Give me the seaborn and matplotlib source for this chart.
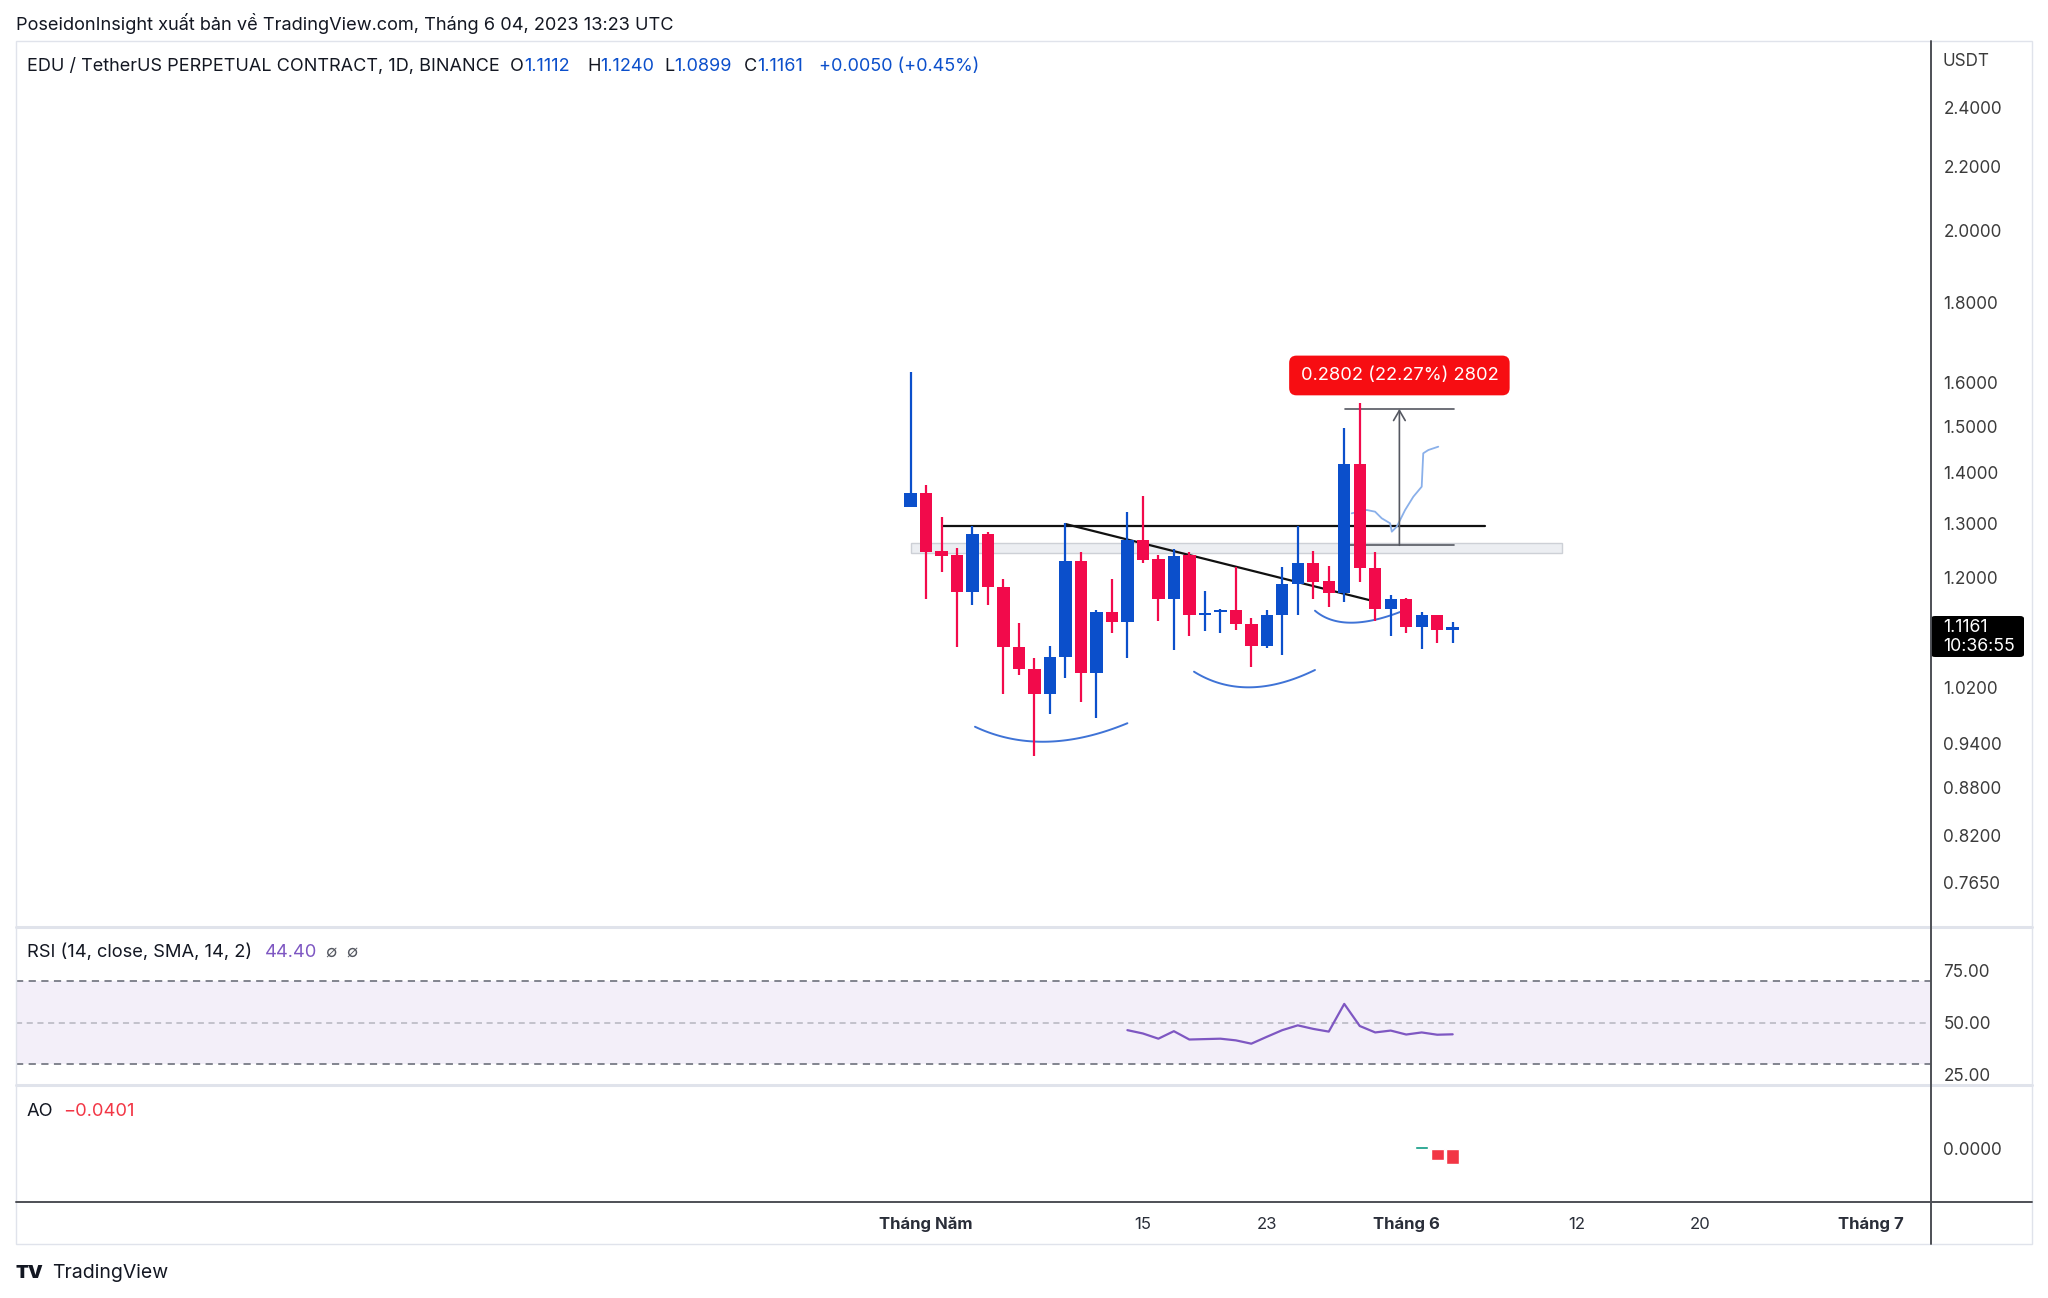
import numpy as np
import pandas as pd
import matplotlib
matplotlib.use("Agg")
import matplotlib.pyplot as plt
import seaborn as sns
from matplotlib.patches import Rectangle, FancyBboxPatch
from matplotlib.lines import Line2D
from matplotlib.ticker import FuncFormatter, NullLocator, NullFormatter

# ---------------- data ----------------
dates = pd.date_range("2023-04-30", "2023-06-04", freq="D")
opens = [1.332, 1.360, 1.248, 1.240, 1.174, 1.279, 1.184, 1.083, 1.048, 1.011,
         1.067, 1.229, 1.042, 1.141, 1.123, 1.269, 1.233, 1.162, 1.240, 1.135,
         1.140, 1.143, 1.121, 1.085, 1.135, 1.188, 1.225, 1.194, 1.173, 1.418,
         1.217, 1.145, 1.162, 1.115, 1.136, 1.1112]
highs = [1.625, 1.375, 1.312, 1.253, 1.295, 1.284, 1.197, 1.122, 1.066, 1.085,
         1.300, 1.245, 1.144, 1.198, 1.322, 1.353, 1.240, 1.251, 1.245, 1.176,
         1.145, 1.219, 1.130, 1.144, 1.219, 1.295, 1.248, 1.220, 1.495, 1.551,
         1.245, 1.169, 1.165, 1.141, 1.136, 1.1240]
lows = [1.331, 1.162, 1.209, 1.083, 1.152, 1.152, 1.011, 1.040, 0.923, 0.981,
        1.034, 0.999, 0.976, 1.106, 1.066, 1.225, 1.126, 1.078, 1.100, 1.109,
        1.106, 1.110, 1.051, 1.081, 1.070, 1.135, 1.162, 1.149, 1.158, 1.192,
        1.126, 1.100, 1.106, 1.080, 1.090, 1.0899]
closes = [1.360, 1.246, 1.239, 1.174, 1.279, 1.184, 1.083, 1.048, 1.011, 1.067,
          1.229, 1.042, 1.141, 1.123, 1.269, 1.232, 1.162, 1.238, 1.135, 1.139,
          1.143, 1.121, 1.085, 1.135, 1.188, 1.225, 1.192, 1.173, 1.418, 1.217,
          1.145, 1.162, 1.115, 1.136, 1.111, 1.1161]

rsi_dates = pd.date_range("2023-05-14", "2023-06-04", freq="D")
rsi_values = [46.4, 44.8, 42.3, 45.9, 41.9, 42.1, 42.3, 41.5, 39.9, 43.2, 46.4,
              48.7, 47.0, 45.7, 59.0, 48.4, 45.3, 46.2, 44.3, 45.3, 44.2, 44.4]

ao_dates = pd.to_datetime(["2023-06-02", "2023-06-03", "2023-06-04"])
ao_values = [0.0075, -0.0294, -0.0401]

price_ticks = [0.765, 0.82, 0.88, 0.94, 1.02, 1.2, 1.3, 1.4, 1.5, 1.6, 1.8, 2.0, 2.2, 2.4]
rsi_ticks = [25, 50, 75]
ao_ticks = [0.0]
time_tick_dates = pd.to_datetime(["2023-05-01", "2023-05-15", "2023-05-23", "2023-06-01",
                                  "2023-06-12", "2023-06-20", "2023-07-01"])
time_tick_labels = ["Tháng Năm", "15", "23", "Tháng 6", "12", "20", "Tháng 7"]
time_tick_bold = [True, False, False, True, False, False, True]

# drawings (date offsets in days from 1 May, price)
hline_x = [1.0, 36.1]; hline_y = 1.2951
trend_x = [9.0, 28.77]; trend_y = [1.2983, 1.1596]
zone_x = [-0.99, 41.06]; zone_y = [1.2434, 1.2631]
measure_x = [27.05, 34.09]; measure_y = [1.2582, 1.5384]; measure_arrow_x = 30.56
measure_text = "0.2802 (22.27%) 2802"
proj_x = [27.48, 28.45, 28.99, 29.42, 29.96, 30.07, 30.39, 30.93, 31.46, 32.0, 32.1, 32.43, 33.07]
proj_y = [1.3189, 1.3254, 1.3221, 1.3093, 1.2997, 1.2837, 1.2932, 1.3254, 1.3516, 1.3717, 1.4409, 1.4479, 1.4550]
arcs = [
    ([3.16, 7.79, 13.0], [0.963, 0.942, 0.968]),
    ([17.3, 20.92, 25.11], [1.0444, 1.0206, 1.047]),
    ([25.11, 27.37, 30.6], [1.1426, 1.1226, 1.1404]),
]

# ---------------- style ----------------
sns.set_theme(style="white")
plt.rcParams["font.family"] = ["Inter", "DejaVu Sans"]

W, H = 2048, 1298
fig = plt.figure(figsize=(W / 100, H / 100), dpi=100)
fig.patch.set_facecolor("white")
renderer = fig.canvas.get_renderer()

def add_ax(x0, y0, x1, y1):
    return fig.add_axes([x0 / W, 1 - y1 / H, (x1 - x0) / W, (y1 - y0) / H])

def fline(x0, y0, x1, y1, **kw):
    fig.add_artist(Line2D([x0 / W, x1 / W], [1 - y0 / H, 1 - y1 / H], transform=fig.transFigure, **kw))

def ftext(x, y, s, **kw):
    return fig.text(x / W, 1 - y / H, s, va="center", **kw)

def fseq(x, y, pieces, **kw):
    """place text pieces one after another; returns end x in px"""
    for s, col in pieces:
        t = ftext(x, y, s, color=col, **kw)
        x += t.get_window_extent(renderer=renderer).width
    return x

base = pd.Timestamp("2023-05-01")
xd = np.array([(d - base).days for d in dates], dtype=float)
rsi_x = np.array([(d - base).days for d in rsi_dates], dtype=float)
ao_x = np.array([(d - base).days for d in ao_dates], dtype=float)
tt_x = [(d - base).days for d in time_tick_dates]
XLIM = (-58.75, 64.88)

BLUE = "#0B4FCB"
RED = "#F20A4B"
AXC = "#3b3b3b"
TXT = "#131722"
LBL = 12.3

# ---------------- main pane ----------------
ax = add_ax(16, 42, 1931, 927)
ax.set_yscale("log")
ax.set_xlim(*XLIM)
ax.set_ylim(0.7169, 2.6416)
for s in ax.spines.values():
    s.set_visible(False)
ax.set_xticks([])
ax.yaxis.tick_right()
ax.set_yticks(price_ticks)
ax.yaxis.set_major_formatter(FuncFormatter(lambda v, p: f"{v:.4f}"))
ax.yaxis.set_minor_locator(NullLocator())
ax.yaxis.set_minor_formatter(NullFormatter())
ax.tick_params(axis="y", length=0, pad=9, labelsize=LBL, labelcolor=AXC)
ax.grid(False)

ax.add_patch(Rectangle((zone_x[0], zone_y[0]), zone_x[1] - zone_x[0], zone_y[1] - zone_y[0],
                       facecolor="#ECEEF2", edgecolor="#CDD0D6", lw=1, zorder=1))
ax.plot(hline_x, [hline_y, hline_y], color="#111111", lw=1.6, zorder=2)
ax.plot(trend_x, trend_y, color="#111111", lw=1.6, zorder=2)
sns.lineplot(x=proj_x, y=proj_y, ax=ax, color="#8AB0EA", lw=1.3, zorder=2, sort=False)

# arcs: quadratic bezier through three points in (day, log price)
for axs, ays in arcs:
    P0 = np.array([axs[0], np.log(ays[0])]); M = np.array([axs[1], np.log(ays[1])])
    P2 = np.array([axs[2], np.log(ays[2])])
    C = 2 * M - (P0 + P2) / 2
    t = np.linspace(0, 1, 60)[:, None]
    pts = (1 - t) ** 2 * P0 + 2 * (1 - t) * t * C + t ** 2 * P2
    ax.plot(pts[:, 0], np.exp(pts[:, 1]), color="#3F73D6", lw=1.4, zorder=2)

# measure tool
mc = "#555861"
ax.plot(measure_x, [measure_y[0]] * 2, color=mc, lw=1.2, zorder=2)
ax.plot(measure_x, [measure_y[1]] * 2, color=mc, lw=1.2, zorder=2)
ax.annotate("", xy=(measure_arrow_x, measure_y[1]), xytext=(measure_arrow_x, measure_y[0]),
            arrowprops=dict(arrowstyle="->,head_length=0.6,head_width=0.35", color=mc, lw=1.2,
                            shrinkA=0, shrinkB=0), zorder=2)
ax.text(measure_arrow_x, 1.616, measure_text, ha="center", va="center", color="white",
        fontsize=13.2, zorder=6,
        bbox=dict(boxstyle="round,pad=0.62,rounding_size=0.4", fc="#F70D12", ec="none"))

# candles
for x, o, h, l, c in zip(xd, opens, highs, lows, closes):
    col = BLUE if c >= o else RED
    ax.vlines(x, l, h, color=col, lw=1.6, zorder=4)
    ax.bar(x, max(abs(c - o), 0.0025), bottom=min(o, c), width=0.8, color=col, zorder=5, lw=0)

# ---------------- RSI pane ----------------
ar = add_ax(16, 927, 1931, 1085)
ar.set_xlim(*XLIM)
ar.set_ylim(20.06, 95.93)
for s in ar.spines.values():
    s.set_visible(False)
ar.set_xticks([])
ar.yaxis.tick_right()
ar.set_yticks(rsi_ticks)
ar.yaxis.set_major_formatter(FuncFormatter(lambda v, p: f"{v:.2f}"))
ar.tick_params(axis="y", length=0, pad=9, labelsize=LBL, labelcolor=AXC)
ar.axhspan(30, 70, color="#7E57C2", alpha=0.09, lw=0)
ar.axhline(70, color="#787B86", lw=1.3, ls=(0, (4, 3)))
ar.axhline(30, color="#787B86", lw=1.3, ls=(0, (4, 3)))
ar.axhline(50, color="#787B86", lw=1.1, ls=(0, (4, 3)), alpha=0.5)
sns.lineplot(x=rsi_x, y=rsi_values, ax=ar, color="#7E57C2", lw=1.6)
ar.set_xlabel(""); ar.set_ylabel("")

# ---------------- AO pane ----------------
ao = add_ax(16, 1085, 1931, 1202)
ao.set_xlim(*XLIM)
ao.set_ylim(-0.1429, 0.1697)
for s in ao.spines.values():
    s.set_visible(False)
ao.bar(ao_x, ao_values, width=0.85, color=["#089981" if v >= 0 else "#F23645" for v in ao_values])
ao.yaxis.tick_right()
ao.set_yticks(ao_ticks)
ao.yaxis.set_major_formatter(FuncFormatter(lambda v, p: f"{v:.4f}"))
ao.tick_params(axis="y", length=0, pad=9, labelsize=LBL, labelcolor=AXC)
ao.set_xticks(tt_x)
ao.set_xticklabels(time_tick_labels)
ao.tick_params(axis="x", length=0, pad=11, labelsize=12, labelcolor="#2a2e39")
for lab, b in zip(ao.get_xticklabels(), time_tick_bold):
    if b:
        lab.set_fontweight("bold")

# ---------------- frame lines ----------------
fig.add_artist(Rectangle((16 / W, 1 - 1244 / H), (2032 - 16) / W, (1244 - 41) / H,
                         transform=fig.transFigure, fill=False, ec="#E0E3EB", lw=1))
fline(16, 927, 2032, 927, color="#E0E3EB", lw=2.2)
fline(16, 1085, 2032, 1085, color="#E0E3EB", lw=2.2)
fline(16, 1202, 2032, 1202, color="#4d4f55", lw=1.4)
fline(1931, 41, 1931, 1244, color="#4d4f55", lw=1.4)

# ---------------- texts ----------------
ftext(16, 23.5, "PoseidonInsight xuất bản về TradingView.com, Tháng 6 04, 2023 13:23 UTC",
      fontsize=13.1, color=TXT)
ftext(27, 66.5, "EDU / TetherUS PERPETUAL CONTRACT, 1D, BINANCE", fontsize=13, color=TXT)
VBLUE = "#0B4FCB"
for lx, letter, val in [(510, "O", "1.1112"), (587, "H", "1.1240"), (664, "L", "1.0899"), (744, "C", "1.1161")]:
    fseq(lx, 66.5, [(letter, TXT), (val, VBLUE)], fontsize=13)
ftext(819, 66.5, "+0.0050 (+0.45%)", fontsize=13, color=VBLUE)

fseq(27, 952.5, [("RSI (14, close, SMA, 14, 2)", TXT)], fontsize=13.2)
ftext(265, 952.5, "44.40", fontsize=13.2, color="#7E57C2")
ftext(326, 952.5, "∅  ∅", fontsize=12, color="#555861")

ftext(27, 1112, "AO", fontsize=13.2, color=TXT)
ftext(63, 1112, "−0.0401", fontsize=13.2, color="#F23645")

ftext(1943, 62, "USDT", fontsize=LBL, color=AXC)

# last price box
fig.add_artist(FancyBboxPatch((1931 / W, 1 - 657 / H), (2024 - 1931) / W, (657 - 616) / H,
                              boxstyle="round,pad=0,rounding_size=0.002", transform=fig.transFigure,
                              fc="black", ec="none"))
ftext(1943, 627, "1.1161", fontsize=12.8, color="white")
ftext(1943, 646.5, "10:36:55", fontsize=12.8, color="white")

# logo
ftext(16, 1273, "TV", fontsize=13.5, color=TXT, fontweight="black")
ftext(52, 1273, "TradingView", fontsize=14, color=TXT)

fig.savefig("out.png", dpi=100, facecolor="white")
